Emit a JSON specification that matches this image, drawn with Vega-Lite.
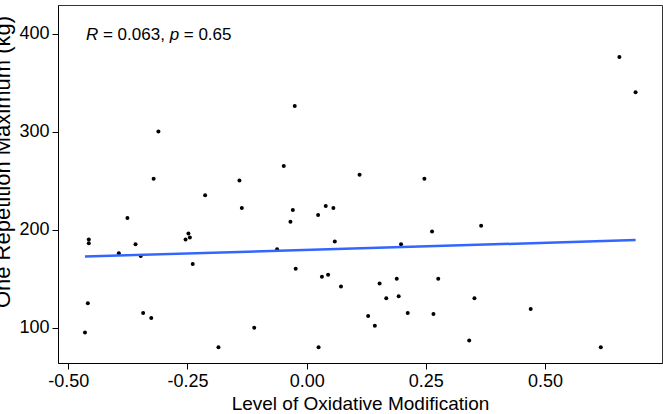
{
  "$schema": "https://vega.github.io/schema/vega-lite/v6.json",
  "width": 604,
  "height": 358,
  "autosize": {"type": "none"},
  "padding": {"left": 58, "top": 5, "right": 1, "bottom": 51},
  "background": "white",
  "config": {
    "view": {"stroke": "#333333", "strokeWidth": 1},
    "font": "Liberation Sans"
  },
  "datasets": {
    "pts": [
      {"x": -0.311, "y": 300}, {"x": -0.025, "y": 326}, {"x": -0.321, "y": 252},
      {"x": -0.213, "y": 235}, {"x": -0.141, "y": 250}, {"x": -0.048, "y": 265},
      {"x": 0.656, "y": 376}, {"x": 0.690, "y": 340}, {"x": 0.111, "y": 256},
      {"x": 0.247, "y": 252}, {"x": -0.136, "y": 222}, {"x": -0.376, "y": 212},
      {"x": -0.457, "y": 190}, {"x": -0.457, "y": 186}, {"x": -0.359, "y": 185},
      {"x": -0.394, "y": 176}, {"x": -0.348, "y": 173}, {"x": -0.254, "y": 190},
      {"x": -0.248, "y": 196}, {"x": -0.245, "y": 192}, {"x": -0.239, "y": 165},
      {"x": -0.459, "y": 125}, {"x": -0.465, "y": 95}, {"x": -0.343, "y": 115},
      {"x": -0.326, "y": 110}, {"x": -0.185, "y": 80}, {"x": -0.110, "y": 100},
      {"x": -0.062, "y": 180}, {"x": -0.029, "y": 220}, {"x": -0.034, "y": 208},
      {"x": -0.023, "y": 160}, {"x": 0.024, "y": 215}, {"x": 0.040, "y": 224},
      {"x": 0.032, "y": 152}, {"x": 0.045, "y": 154}, {"x": 0.025, "y": 80},
      {"x": 0.056, "y": 222}, {"x": 0.059, "y": 188}, {"x": 0.072, "y": 142},
      {"x": 0.263, "y": 198}, {"x": 0.366, "y": 204}, {"x": 0.198, "y": 185},
      {"x": 0.153, "y": 145}, {"x": 0.189, "y": 150}, {"x": 0.276, "y": 150},
      {"x": 0.167, "y": 130}, {"x": 0.193, "y": 132}, {"x": 0.352, "y": 130},
      {"x": 0.129, "y": 112}, {"x": 0.143, "y": 102}, {"x": 0.212, "y": 115},
      {"x": 0.266, "y": 114}, {"x": 0.470, "y": 119}, {"x": 0.341, "y": 87},
      {"x": 0.617, "y": 80}
    ],
    "annItalic": [
      {"x": -0.463, "y": 400, "t": "R"},
      {"x": -0.2874, "y": 400, "t": "p"}
    ],
    "annPlain": [
      {"x": -0.4273, "y": 400, "t": "= 0.063,"},
      {"x": -0.2578, "y": 400, "t": "= 0.65"}
    ]
  },
  "encoding": {
    "x": {
      "field": "x",
      "type": "quantitative",
      "scale": {"domain": [-0.5216, 0.7454], "nice": false, "zero": false},
      "axis": {
        "values": [-0.5, -0.25, 0, 0.25, 0.5],
        "labelExpr": "replace(format(datum.value, '.2f'), '\u2212', '-')",
        "grid": false,
        "labelFontSize": 18,
        "labelColor": "black",
        "labelPadding": 3,
        "labelFlush": false,
        "tickSize": 6,
        "tickColor": "black",
        "domainColor": "black",
        "title": "Level of Oxidative Modification",
        "titleFontSize": 19,
        "titleFontWeight": "normal",
        "titleColor": "black",
        "titleBaseline": "alphabetic",
        "titleY": 46
      }
    },
    "y": {
      "field": "y",
      "type": "quantitative",
      "scale": {"domain": [64, 429.1], "nice": false, "zero": false},
      "axis": {
        "values": [100, 200, 300, 400],
        "grid": false,
        "labelFontSize": 18,
        "labelColor": "black",
        "labelPadding": 3,
        "labelFlush": false,
        "tickSize": 6,
        "tickColor": "black",
        "domainColor": "black",
        "title": "One Repetition Maximum (kg)",
        "titleFontSize": 22,
        "titleFontWeight": "normal",
        "titleColor": "black",
        "titleAngle": -90,
        "titleAlign": "center",
        "titleBaseline": "alphabetic",
        "titleX": -48.5,
        "titleY": 156.5
      }
    }
  },
  "layer": [
    {
      "data": {"name": "pts"},
      "mark": {"type": "circle", "size": 16, "opacity": 1, "color": "black"}
    },
    {
      "data": {"name": "pts"},
      "transform": [{"regression": "y", "on": "x"}],
      "mark": {"type": "line", "color": "#3366FF", "strokeWidth": 2.5}
    },
    {
      "data": {"name": "annItalic"},
      "mark": {"type": "text", "align": "left", "baseline": "alphabetic", "dy": 6, "fontSize": 17, "fontStyle": "italic", "color": "black"},
      "encoding": {"text": {"field": "t"}}
    },
    {
      "data": {"name": "annPlain"},
      "mark": {"type": "text", "align": "left", "baseline": "alphabetic", "dy": 6, "fontSize": 17, "color": "black"},
      "encoding": {"text": {"field": "t"}}
    }
  ]
}
